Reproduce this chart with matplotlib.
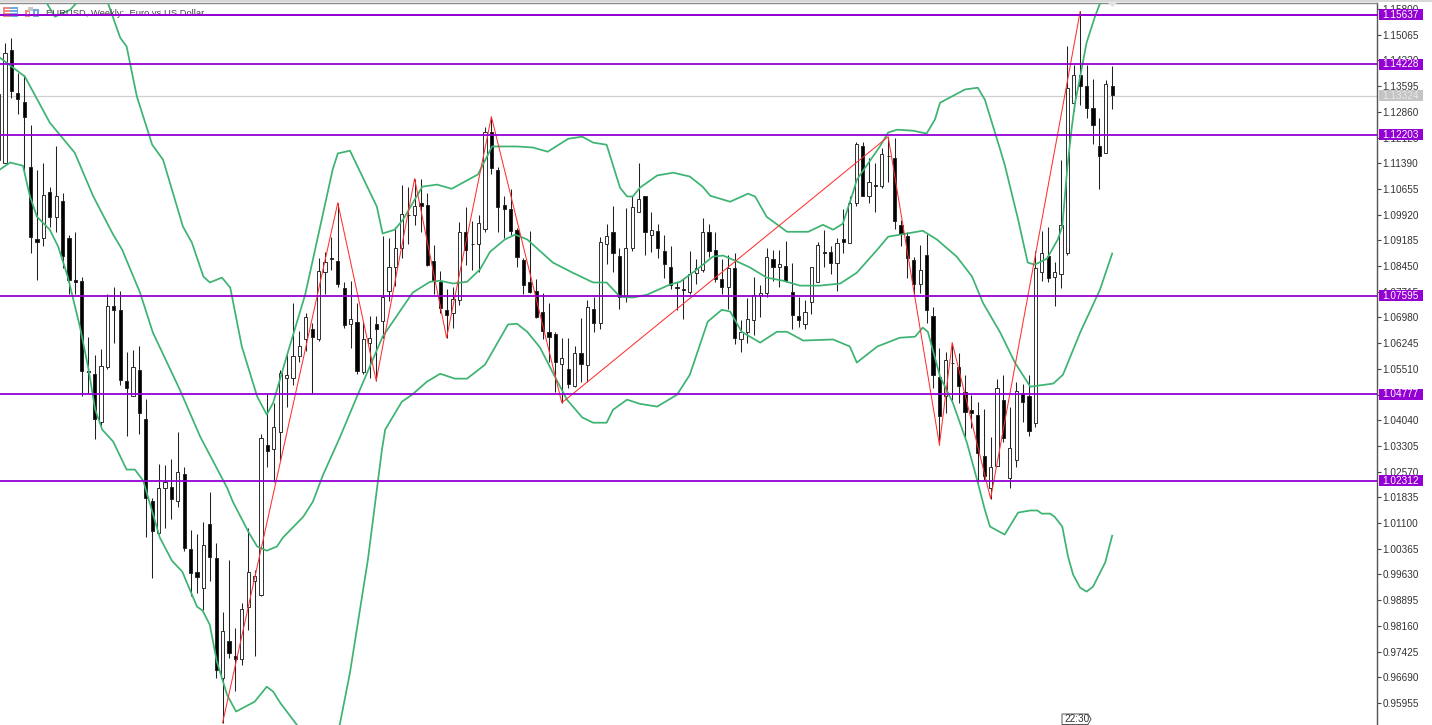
import matplotlib
matplotlib.use("Agg")
import matplotlib.pyplot as plt
from matplotlib.patches import Rectangle, Polygon

plt.rcParams['font.family'] = ['Liberation Sans', 'DejaVu Sans']

W, H = 1432, 725

# weekly candles, bar number = position in the list
opens = [1.1149,1.1140,1.1464,1.1339,1.1315,1.1127,1.0921,1.0924,1.1058,1.0986,
1.1032,1.0924,1.0805,1.0803,1.0545,1.0537,1.0400,1.0557,1.0732,1.0720,
1.0517,1.0474,1.0549,1.0409,1.0174,1.0083,1.0211,1.0214,1.0174,1.0251,
1.0037,0.9969,0.9923,1.0106,1.0011,0.9668,0.9774,0.9731,0.9722,0.9871,
0.9945,0.9905,1.0334,1.0323,1.0369,1.0526,1.0526,1.0589,1.0637,1.0666,
1.0637,1.0829,1.0869,1.0860,1.0783,1.0680,1.0686,1.0543,1.0626,1.0680,
1.0689,1.0775,1.0841,1.0898,1.0992,1.0992,1.1024,1.1021,1.0860,1.0800,
1.0718,1.0712,1.0749,1.0941,1.0909,1.0909,1.0952,1.1229,1.1121,1.1021,
1.1009,1.0949,1.0863,1.0798,1.0775,1.0715,1.0657,1.0652,1.0566,1.0552,
1.0503,1.0597,1.0563,1.0723,1.0683,1.0909,1.0943,1.0875,1.0757,1.0898,
1.1001,1.1044,1.0935,1.0946,1.0889,1.0843,1.0784,1.0778,1.0772,1.0826,
1.0835,1.0943,1.0892,1.0809,1.0786,1.0838,1.0635,1.0657,1.0692,1.0763,
1.0769,1.0866,1.0843,1.0846,1.0772,1.0703,1.0680,1.0743,1.0800,1.0884,
1.0886,1.0855,1.0923,1.0912,1.1026,1.1187,1.1046,1.1076,1.1075,1.1161,
1.1155,1.0963,1.0932,1.0863,1.0795,1.0878,1.0703,1.0529,1.0472,1.0569,
1.0557,1.0486,1.0432,1.0420,1.0303,1.0211,1.0274,1.0463,1.0240,1.0289,
1.0483,1.0474,1.0397,1.0829,1.0875,1.0815,1.0821,1.0883,1.1312,1.1392,
1.1361,1.1298,1.1189,1.1169,1.1361]
highs = [1.1435,1.1484,1.1498,1.1396,1.1390,1.1247,1.1121,1.1140,1.1072,1.1187,
1.1055,1.0935,1.0941,1.0815,1.0643,1.0592,1.0609,1.0766,1.0786,1.0775,
1.0600,1.0606,1.0615,1.0466,1.0183,1.0280,1.0277,1.0294,1.0371,1.0269,
1.0091,1.0080,1.0114,1.0200,1.0054,0.9857,1.0003,0.9811,0.9880,1.0097,
0.9977,1.0366,1.0483,1.0454,1.0549,1.0597,1.0738,1.0660,1.0712,1.0683,
1.0869,1.0886,1.0929,1.1026,1.0800,1.0803,1.0740,1.0686,1.0703,1.0703,
1.0932,1.0926,1.0958,1.1078,1.1072,1.1095,1.1095,1.1055,1.0906,1.0832,
1.0780,1.0786,1.0972,1.1015,1.0975,1.0992,1.1244,1.1272,1.1127,1.1046,
1.1066,1.0955,1.0869,1.0946,1.0809,1.0769,1.0740,1.0657,1.0640,1.0640,
1.0615,1.0697,1.0749,1.0757,1.0929,1.0966,1.1018,1.0898,1.1012,1.1044,
1.1140,1.1046,1.1001,1.0966,1.0935,1.0901,1.0798,1.0812,1.0889,1.0866,
1.0981,1.0966,1.0943,1.0866,1.0878,1.0883,1.0692,1.0755,1.0815,1.0792,
1.0898,1.0892,1.0892,1.0918,1.0855,1.0757,1.0749,1.0843,1.0915,1.0949,
1.0903,1.0926,1.1009,1.1046,1.1201,1.1201,1.1155,1.1141,1.1184,1.1215,
1.1212,1.0978,1.0941,1.0872,1.0906,1.0938,1.0729,1.0612,1.0600,1.0626,
1.0595,1.0534,1.0477,1.0457,1.0437,1.0357,1.0523,1.0534,1.0443,1.0514,
1.0509,1.0532,1.0889,1.0946,1.0958,1.0858,1.1147,1.1473,1.1421,1.1573,
1.1421,1.1381,1.1267,1.1378,1.1418]
lows = [1.1149,1.1139,1.1327,1.1281,1.1107,1.0883,1.0806,1.0901,1.0958,1.0943,
1.0838,1.0764,1.0764,1.0472,1.0483,1.0349,1.0389,1.0552,1.0626,1.0506,
1.0360,1.0472,1.0366,1.0071,0.9954,1.0080,1.0097,1.0123,1.0157,1.0031,
0.9900,0.9911,0.9862,0.9945,0.9668,0.9539,0.9725,0.9631,0.9705,0.9805,
0.9731,0.9900,1.0269,1.0226,1.0291,1.0443,1.0506,1.0572,1.0603,1.0480,
1.0632,1.0766,1.0835,1.0786,1.0669,1.0612,1.0537,1.0537,1.0526,1.0517,
1.0640,1.0746,1.0789,1.0869,1.0909,1.0961,1.0943,1.0846,1.0764,1.0712,
1.0640,1.0669,1.0735,1.0849,1.0835,1.0829,1.0943,1.1109,1.0943,1.0926,
1.0935,1.0843,1.0764,1.0769,1.0697,1.0635,1.0572,1.0486,1.0454,1.0495,
1.0500,1.0512,1.0514,1.0655,1.0666,1.0852,1.0829,1.0723,1.0743,1.0889,
1.0999,1.0878,1.0886,1.0869,1.0812,1.0780,1.0720,1.0695,1.0764,1.0795,
1.0829,1.0872,1.0800,1.0766,1.0723,1.0623,1.0600,1.0626,1.0649,1.0700,
1.0757,1.0803,1.0786,1.0798,1.0666,1.0672,1.0666,1.0709,1.0798,1.0843,
1.0823,1.0775,1.0881,1.0910,1.1018,1.1044,1.1026,1.1001,1.1069,1.1084,
1.0952,1.0901,1.0812,1.0764,1.0769,1.0683,1.0497,1.0334,1.0426,1.0463,
1.0454,1.0349,1.0383,1.0226,1.0234,1.0180,1.0272,1.0343,1.0211,1.0271,
1.0400,1.0360,1.0386,1.0803,1.0798,1.0732,1.0781,1.0878,1.1287,1.1307,
1.1267,1.1195,1.1066,1.1167,1.1295]
closes = [1.1336,1.1453,1.1347,1.1324,1.1272,1.0929,1.0915,1.1049,1.0986,1.1044,
1.0875,1.0806,1.0800,1.0546,1.0541,1.0409,1.0560,1.0732,1.0718,1.0520,
1.0497,1.0557,1.0426,1.0183,1.0086,1.0211,1.0228,1.0180,1.0257,1.0040,
0.9966,0.9957,1.0048,1.0014,0.9691,0.9800,0.9739,0.9722,0.9865,0.9969,
0.9960,1.0354,1.0317,1.0386,1.0540,1.0534,1.0589,1.0615,1.0700,1.0643,
1.0832,1.0858,1.0866,1.0795,1.0677,1.0695,1.0546,1.0635,1.0640,1.0666,
1.0757,1.0843,1.0898,1.0995,1.0990,1.1018,1.1018,1.0849,1.0806,1.0726,
1.0706,1.0752,1.0943,1.0892,1.0907,1.0969,1.1229,1.1124,1.1015,1.1009,
1.0946,1.0872,1.0792,1.0772,1.0700,1.0660,1.0643,1.0572,1.0583,1.0509,
1.0597,1.0566,1.0729,1.0683,1.0915,1.0932,1.0883,1.0757,1.0898,1.1015,
1.1038,1.0943,1.0949,1.0898,1.0852,1.0792,1.0782,1.0776,1.0821,1.0840,
1.0941,1.0889,1.0809,1.0786,1.0838,1.0640,1.0657,1.0695,1.0763,1.0769,
1.0872,1.0843,1.0852,1.0803,1.0706,1.0692,1.0715,1.0841,1.0906,1.0882,
1.0855,1.0912,1.0915,1.1026,1.1195,1.1046,1.1086,1.1074,1.1166,1.1159,
1.0975,1.0938,1.0869,1.0795,1.0835,1.0718,1.0534,1.0417,1.0577,1.0567,
1.0503,1.0429,1.0426,1.0309,1.0246,1.0269,1.0497,1.0354,1.0326,1.0489,
1.0457,1.0374,1.0838,1.0883,1.0812,1.0829,1.0961,1.1353,1.1392,1.1361,
1.1298,1.1247,1.1161,1.1367,1.1333]

# bollinger bands, read at these bar numbers
upper_bars = [6.5,7.2,8.8,11.2,12.2,13.2,15.8,16.9,19,20,21.6,24,25.7,28.8,30.2,32,33,34.9,36.2,38,
40.4,41.9,42.9,45,47.9,49.8,52.2,53,54.9,59.1,60,61.9,63.2,66.2,68.5,70.8,74.9,77.1,81,83.5,
85.8,89,91.2,92.9,95,97.1,98.2,99.1,100.2,102.9,105.4,108,110,111.2,114.3,117.1,118.2,120,123.2,126.5,
128.8,130.4,131.9,133.5,134.1,137.7,139,140.4,142.9,145,146.3,147.1,151,153,154.1,156.5,157.2,159.3,160.8,161.9,
163.8,165.5,166.2,167,167.7,168.2,169,170,171.3,172.2,174]
upper_band = [1.1636,1.1607,1.1558,1.1578,1.1598,1.1641,1.1678,1.1607,1.1498,1.1473,1.1330,1.1192,1.1149,1.0958,1.0912,1.0815,1.0798,1.0812,1.0783,1.0615,
1.0472,1.0420,1.0454,1.0586,1.0763,1.0921,1.1121,1.1167,1.1175,1.1015,1.0938,1.0949,1.0978,1.1072,1.1078,1.1066,1.1107,1.1187,1.1187,1.1184,
1.1172,1.1209,1.1215,1.1198,1.1192,1.1069,1.1044,1.1044,1.1069,1.1104,1.1112,1.1101,1.1072,1.1046,1.1029,1.1052,1.1044,1.0986,1.0943,1.0943,
1.0963,1.0949,1.0966,1.1055,1.1092,1.1187,1.1227,1.1235,1.1232,1.1224,1.1264,1.1312,1.1350,1.1355,1.1321,1.1178,1.1135,1.0978,1.0855,1.0849,
1.0866,1.0921,1.0958,1.1129,1.1244,1.1312,1.1387,1.1484,1.1558,1.1601,1.1678]

middle_bars = [0.2,4.1,8,11.9,14.8,17.9,19.3,22.1,24.1,28.3,31.5,35.7,36.6,39,40.4,41.9,43.5,44.4,47.6,49.1,
50.7,53.3,56,60,64.7,67.4,69,71,73.2,75.2,76.8,79.1,80.7,82.6,86.6,89.7,92.9,95,97.1,99.1,
101.3,104.9,106.5,109.1,111.6,113.2,115.4,117.4,120,122.6,125.2,128.3,131.5,134.1,137.3,139,141.9,144.4,146.6,149.7,
152.1,153.8,156.5,158.8,161.2,164.8,166.3,169,172.1,174]
middle_band = [1.1441,1.1387,1.1255,1.1169,1.1044,1.0935,1.0892,1.0769,1.0655,1.0492,1.0357,1.0211,1.0171,1.0086,1.0043,1.0031,1.0043,1.0068,1.0128,1.0171,
1.0248,1.0354,1.0472,1.0643,1.0769,1.0800,1.0803,1.0795,1.0800,1.0835,1.0886,1.0921,1.0935,1.0921,1.0855,1.0826,1.0798,1.0798,1.0757,1.0755,
1.0763,1.0792,1.0800,1.0835,1.0872,1.0875,1.0858,1.0841,1.0812,1.0803,1.0789,1.0789,1.0795,1.0826,1.0892,1.0929,1.0938,1.0946,1.0921,1.0872,
1.0815,1.0740,1.0655,1.0569,1.0500,1.0509,1.0534,1.0655,1.0778,1.0881]

lower_bars = [0.2,1.8,3.8,4.9,6,8,9.3,10.8,12.7,14,15.1,16.2,17.9,20,21.3,22.6,25.2,27.1,28.7,31,
31.9,33,34.1,35.7,37.1,40,41.9,42.9,44,46.6,48.7,51,53.3,54.9,57.7,59.9,60.4,63,64.6,66.9,
69,71.3,73.2,76,79.6,81,82.6,84.6,86.6,88.8,91.2,92.9,95,96,98.2,100.2,102.9,106,108,110.8,
113,114.3,116.1,119,121.6,123.2,125.7,130.4,133,134.1,137.3,140.8,143.2,144.4,145.2,147.1,149.1,151.3,153,154.1,
154.9,157.2,159.3,161.2,162.3,163,164.3,165,166.2,167.1,167.9,169,170,171,172.9,174]
lower_band = [1.1121,1.1141,1.1132,1.1044,1.0986,1.0949,1.0901,1.0815,1.0672,1.0555,1.0434,1.0377,1.0343,1.0263,1.0263,1.0231,1.0068,1.0002,0.9971,0.9871,
0.9859,0.9819,0.9714,0.9619,0.9571,0.9599,0.9642,0.9628,0.9596,0.9533,0.9476,0.9462,0.9533,0.9682,1.0005,1.0320,1.0377,1.0457,1.0477,1.0514,
1.0537,1.0523,1.0523,1.0563,1.0678,1.0680,1.0657,1.0612,1.0540,1.0463,1.0412,1.0397,1.0397,1.0434,1.0463,1.0451,1.0443,1.0477,1.0534,1.0686,
1.0720,1.0715,1.0657,1.0626,1.0657,1.0657,1.0632,1.0635,1.0615,1.0569,1.0615,1.0640,1.0643,1.0669,1.0657,1.0529,1.0454,1.0340,1.0226,1.0148,
1.0100,1.0077,1.0140,1.0146,1.0146,1.0137,1.0137,1.0128,1.0100,1.0014,0.9962,0.9925,0.9914,0.9928,0.9997,1.0074]

# zigzag turning bars, alternating low / high
zigzag_bars = [35, 53, 59, 65, 70, 77, 88, 139, 147, 149, 155, 169]

levels = [1.15637, 1.14228, 1.12203, 1.07595, 1.04777, 1.02312]
last_price = 1.13324
tick_values = [1.15800,1.15065,1.14330,1.13595,1.12860,1.12125,1.11390,1.10655,1.09920,1.09185,
               1.08450,1.07715,1.06980,1.06245,1.05510,1.04775,1.04040,1.03305,1.02570,1.01835,
               1.01100,1.00365,0.99630,0.98895,0.98160,0.97425,0.96690,0.95955]

PURPLE = "#9400D3"
GREEN = "#3CB371"

fig = plt.figure(figsize=(W / 100, H / 100), dpi=100, facecolor="white")
ax = fig.add_axes([0, 0, 1377 / W, 722.5 / H])
ax.set_xlim(0.219, 215.375)
ax.set_ylim(0.95325, 1.15987)

# candles
for i in range(len(opens)):
    ax.vlines(i, lows[i], highs[i], color="#222222", lw=0.75, zorder=2)
    bottom = min(opens[i], closes[i])
    height = abs(closes[i] - opens[i])
    face = "white" if closes[i] >= opens[i] else "black"
    ax.bar(i, height, bottom=bottom, width=0.5, facecolor=face, edgecolor="#222222", lw=0.65, zorder=2.1)

ax.plot(upper_bars, upper_band, color=GREEN, lw=1.25, zorder=3)
ax.plot(middle_bars, middle_band, color=GREEN, lw=1.25, zorder=3)
ax.plot(lower_bars, lower_band, color=GREEN, lw=1.25, zorder=3)

zz = []
for n, b in enumerate(zigzag_bars):
    zz.append(lows[b] if n % 2 == 0 else highs[b])
ax.plot(zigzag_bars, zz, color="#ff3030", lw=0.75, zorder=3.2)

ax.axhline(last_price, color="#cfcfcf", lw=0.9, zorder=1)
for lv in levels:
    ax.axhline(lv, color=PURPLE, lw=1.3, zorder=4)

# axis on the right
for s in ["left", "bottom"]:
    ax.spines[s].set_visible(False)
ax.spines["right"].set_color("#555555")
ax.spines["top"].set_color("#8a8a8a")
ax.spines["right"].set_linewidth(1.0)
ax.spines["top"].set_linewidth(1.0)
ax.set_xticks([])
ax.yaxis.tick_right()
ax.set_yticks(tick_values)
ax.set_yticklabels(["%.5f" % t for t in tick_values])
ax.tick_params(axis="y", length=3, width=0.8, color="#444444", pad=1, labelsize=7.2, labelcolor="#333333")

# price tags
tr = ax.get_yaxis_transform()
tag_w = 44 / 1377
tag_h = 0.00315
def price_tag(price, face, tc):
    ax.add_patch(Rectangle((1 + 2 / 1377, price - tag_h / 2), tag_w, tag_h, transform=tr,
                           facecolor=face, edgecolor="none", clip_on=False, zorder=5))
    ax.text(1 + 5 / 1377, price, "%.5f" % price, transform=tr, color=tc, fontsize=7.2,
            va="center", ha="left", clip_on=False, zorder=6)
for lv in levels:
    price_tag(lv, PURPLE, "white")
price_tag(last_price, "#c4c4c4", "#e8e8e8")

# window furniture in pixels
def fx(x):
    return x / W
def fy(y):
    return 1 - y / H
def px_rect(x, y, w, h, c):
    fig.add_artist(Rectangle((fx(x), fy(y + h)), w / W, h / H, transform=fig.transFigure,
                             facecolor=c, edgecolor="none", zorder=3))

fig.add_artist(Rectangle((0, fy(2)), 1, 2 / H, transform=fig.transFigure, facecolor="#d8d8d8", edgecolor="none"))

# title icons
px_rect(3, 7, 7, 10, "#f08c84")
px_rect(10, 7, 8, 10, "#6fa8e0")
for yy in (9, 12, 15):
    px_rect(5, yy, 12, 1, "#ffffff")
px_rect(25, 10, 5, 7, "#f08c84")
px_rect(28, 7, 5, 4, "#c8c8c8")
px_rect(33, 9, 6, 8, "#6fa8e0")
px_rect(35, 11, 2, 4, "#ffffff")
px_rect(27, 12, 2, 3, "#ffffff")

fig.text(fx(46), fy(13.5), "EURUSD, Weekly:  Euro vs US Dollar", fontsize=6.75, color="#444444", va="center", ha="left", zorder=2)
fig.add_artist(plt.Line2D([fx(0), fx(1377)], [fy(14.5), fy(14.5)], color=PURPLE, lw=1.3, zorder=4))

# little marker at the top, time box at the bottom
fig.add_artist(Polygon([(fx(1108), fy(3)), (fx(1117), fy(3)), (fx(1112.5), fy(7))], closed=True,
                       transform=fig.transFigure, facecolor="#e0e0e0", edgecolor="none"))
fig.add_artist(Polygon([(fx(1062), fy(714)), (fx(1088), fy(714)), (fx(1091), fy(719)), (fx(1088), fy(724.5)), (fx(1062), fy(724.5))],
                       closed=True, transform=fig.transFigure, facecolor="white", edgecolor="#555555", lw=0.7))
fig.text(fx(1064), fy(719.5), "22:30", fontsize=7.2, color="#333333", va="center", ha="left", zorder=6)

plt.savefig("out.png", dpi=100)
